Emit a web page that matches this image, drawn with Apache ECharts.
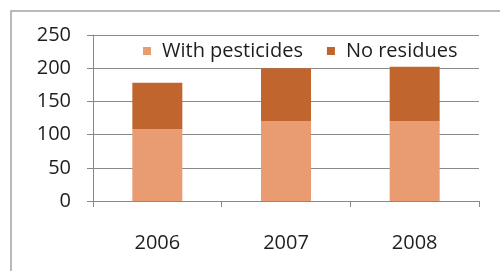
<!DOCTYPE html>
<html>
<head>
<meta charset="utf-8">
<script src="https://cdn.jsdelivr.net/npm/echarts@6/dist/echarts.min.js"></script>
<style>
  html, body { margin: 0; padding: 0; background: #fff; }
  #chart { width: 500px; height: 271px; }
</style>
</head>
<body>
<div id="chart"></div>
<script>
// data
var years = ['2006', '2007', '2008'];
var withPesticides = [108, 120, 120];
var noResidues = [70, 80, 82];
var yTicks = { min: 0, max: 250, step: 50 };

var font = '"Open Sans", sans-serif';
var myChart = echarts.init(document.getElementById('chart'));

var option = {
    animation: false,
    textStyle: { fontFamily: font },
    graphic: [{
        type: 'rect',
        shape: { x: 11, y: 11, width: 600, height: 400 },
        style: { fill: 'none', stroke: '#a3a3a3', lineWidth: 1.5 },
        z: -1
    }],
    grid: { left: 93, right: 21, top: 35, bottom: 70 },
    legend: {
        left: 138,
        top: 36,
        itemWidth: 8,
        itemHeight: 8,
        itemGap: 24,
        icon: 'rect',
        data: ['With pesticides', 'No residues'],
        textStyle: { fontSize: 20, color: '#1e1e1e', fontFamily: font, padding: [0, 0, 0, 6] }
    },
    xAxis: {
        type: 'category',
        data: years,
        axisLine: { lineStyle: { color: '#888', width: 1 } },
        axisTick: { show: true, length: 6, lineStyle: { color: '#888' } },
        axisLabel: { fontSize: 20, color: '#1e1e1e', margin: 32, fontFamily: font }
    },
    yAxis: {
        type: 'value',
        min: yTicks.min,
        max: yTicks.max,
        interval: yTicks.step,
        axisLine: { show: true, lineStyle: { color: '#888', width: 1 } },
        axisTick: { show: true, length: 6, lineStyle: { color: '#888' } },
        splitLine: { lineStyle: { color: '#8a8a8a', width: 1 } },
        axisLabel: { fontSize: 20, color: '#1e1e1e', margin: 22, fontFamily: font }
    },
    series: [{
        name: 'With pesticides',
        type: 'bar',
        stack: 'total',
        barWidth: 50,
        data: withPesticides,
        itemStyle: { color: '#e99b72' }
    }, {
        name: 'No residues',
        type: 'bar',
        stack: 'total',
        barWidth: 50,
        data: noResidues,
        itemStyle: { color: '#c1652f' }
    }]
};

myChart.setOption(option);
</script>
</body>
</html>
